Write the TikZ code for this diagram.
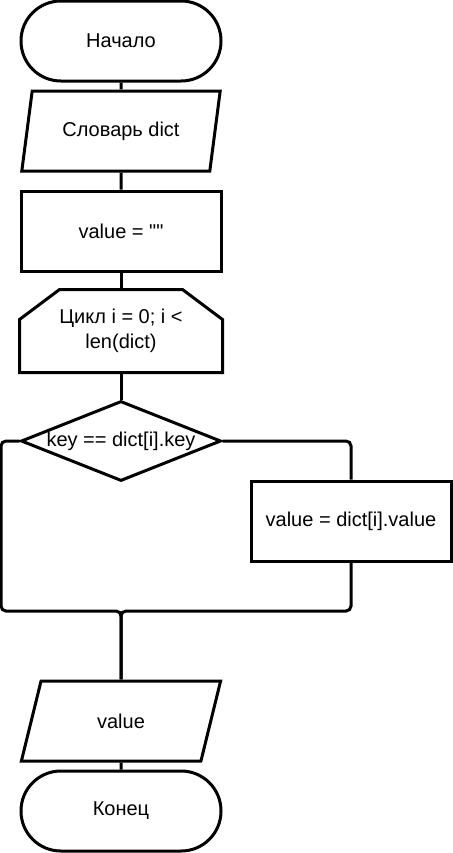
\documentclass[tikz,border=0pt]{standalone}
\usepackage{fontspec}
\setmainfont{Liberation Sans}
\newfontfamily\plainfont{Liberation Sans}
\usetikzlibrary{shapes.geometric}

\begin{document}
\begin{tikzpicture}[x=0.75pt, y=-0.75pt, line width=2.25pt, font=\fontsize{15}{18.5}\selectfont,
	term/.style={draw, rectangle, rounded corners=29.9pt, minimum width=150pt, minimum height=60pt},
	io/.style={draw, trapezium, trapezium left angle=76, trapezium right angle=104, trapezium stretches=true, minimum width=150pt, minimum height=60pt, inner xsep=0pt},
	proc/.style={draw, rectangle, minimum width=150pt, minimum height=60pt},
	loopbox/.style={rectangle, minimum width=150pt, minimum height=60pt, align=center, inner sep=0pt},
	cond/.style={draw, diamond, aspect=2.5, inner sep=0pt, minimum width=150pt, minimum height=60pt},
	line/.style={rounded corners=3.75pt}]
	\useasboundingbox (0,0) rectangle (453,853);
	\node[term] (start) at (121,41) {Начало};
	\node[io] (dict) at (121,131) {Словарь dict};
	\node[proc] (init) at (121,231) {value = {\plainfont ""}};
	\node[loopbox] (loop) at (121,331) {Цикл i = 0; i <\\len(dict)};
	\draw (loop.south west) -- ([yshift=-22.5pt]loop.north west) -- ([xshift=30pt]loop.north west)
		-- ([xshift=-30pt]loop.north east) -- ([yshift=-22.5pt]loop.north east) -- (loop.south east) -- cycle;
	\node[cond] (check) at (121,441) {key == dict[i].key};
	\node[proc] (set) at (351,521) {value = dict[i].value};
	\node[io] (out) at (121,721) {value};
	\node[term] (stop) at (121,811) {Конец};
	\coordinate (merge) at (121,611);
	\coordinate (lft) at (1,441);
	\draw (start) -- (dict);
	\draw (dict) -- (init);
	\draw (init) -- (loop);
	\draw (loop) -- (check);
	\draw [line] (check.east) -| (set.north);
	\draw [line] (check.west) -- (lft) |- (merge) -- (out.north);
	\draw [line] (set.south) |- (merge) -- (out.north);
	\draw (out) -- (stop);
\end{tikzpicture}
\end{document}
